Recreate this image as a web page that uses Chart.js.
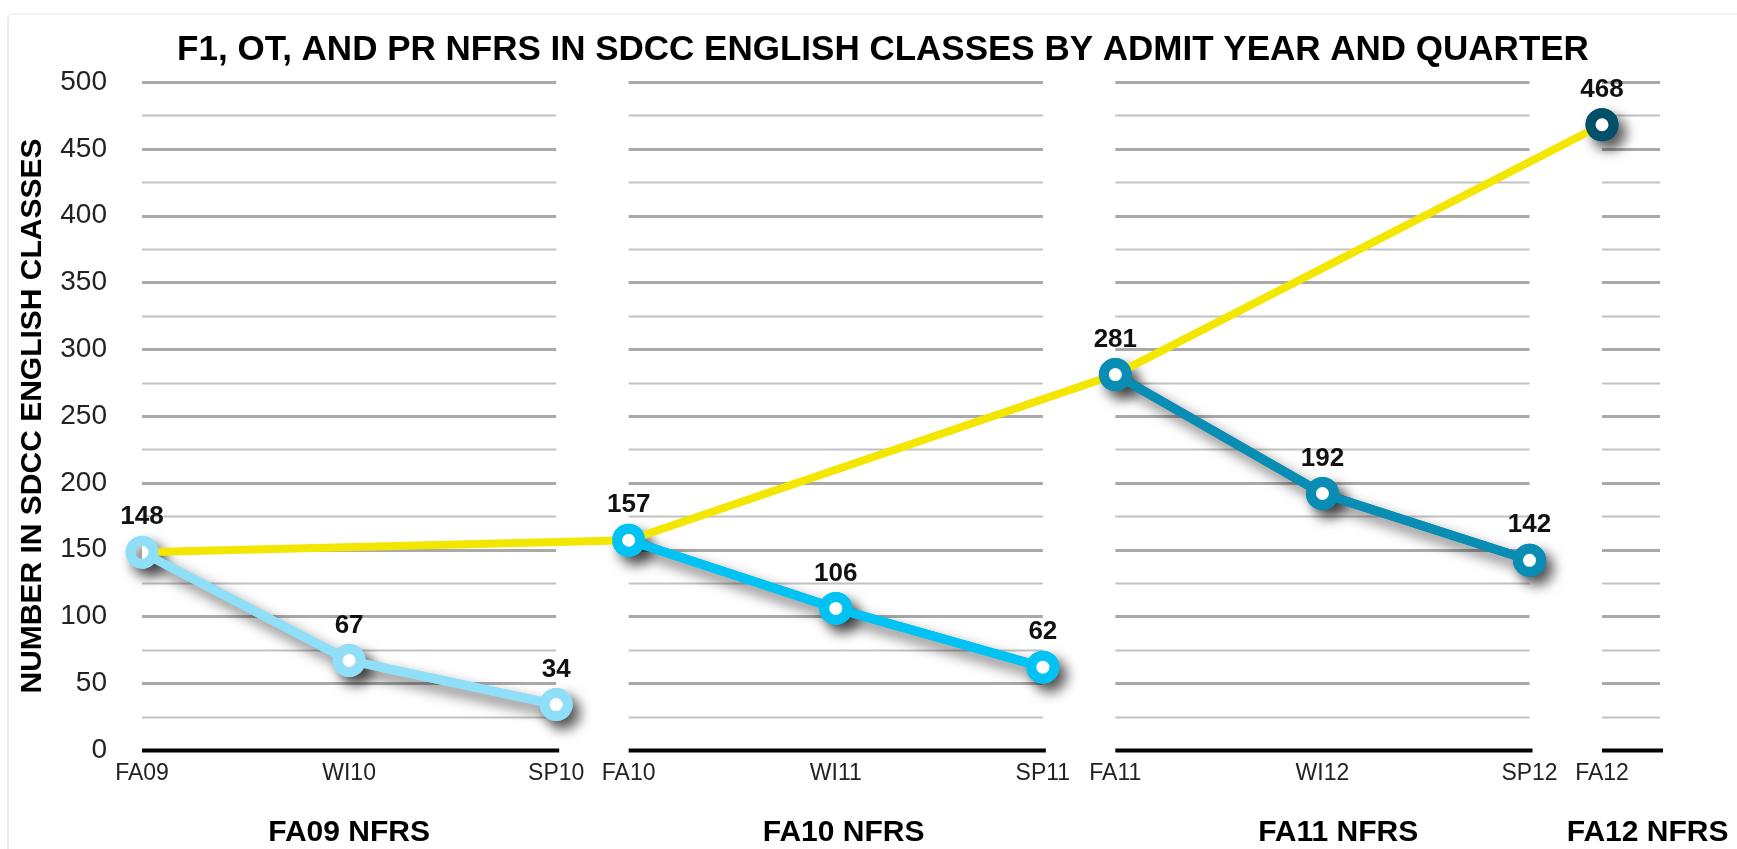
<!DOCTYPE html>
<html>
<head>
<meta charset="utf-8">
<script src="https://cdn.jsdelivr.net/npm/chart.js@4.4.1/dist/chart.umd.min.js"></script>
<style>
  html, body { margin: 0; padding: 0; background: #fff; }
  #frame { position: absolute; left: 7px; top: 13px; right: 0; bottom: 0;
           border-left: 2px solid #ececec; border-top: 2px solid #f2f2f2; border-top-left-radius: 6px; }
  #wrap { position: relative; width: 1737px; height: 849px; }
  canvas { position: absolute; left: 0; top: 0; }
</style>
</head>
<body>
<div id="wrap">
  <div id="frame"></div>
  <canvas id="grafico" width="1737" height="849"></canvas>
</div>
<script>
// ---------- DADOS ----------
const chartTitle = 'F1, OT, AND PR NFRS IN SDCC ENGLISH CLASSES BY ADMIT YEAR AND QUARTER';
const quarterLabels = ['FA09', 'WI10', 'SP10', 'FA10', 'WI11', 'SP11', 'FA11', 'WI12', 'SP12', 'FA12'];
const cohortLabels = ['FA09 NFRS', 'FA10 NFRS', 'FA11 NFRS', 'FA12 NFRS'];
const fa09Cohort = [148, 67, 34];
const fa10Cohort = [157, 106, 62];
const fa11Cohort = [281, 192, 142];
const fa12Cohort = [468];
const f1Trend = [148, 157, 281, 468];   // primeiro trimestre de cada coorte
const yMax = 500;
const yStep = 50;

// ---------- LAYOUT (paineis separados por coorte) ----------
const PANEL = 2;      // largura de um painel (3 trimestres)
const GAP = 0.35;     // espaço entre paineis
const LAST_PANEL = 0.28;
const panelStart = c => c * (PANEL + GAP);
const qPos = (c, q) => panelStart(c) + q * PANEL / 2;
const xMax = panelStart(3) + LAST_PANEL;

const cohorts = [fa09Cohort, fa10Cohort, fa11Cohort, fa12Cohort];
const tickPositions = [];
cohorts.forEach((arr, c) => arr.forEach((v, q) => tickPositions.push(qPos(c, q))));
const groupPositions = cohorts.map((arr, c) => c < 3 ? panelStart(c) + PANEL / 2 + c * 0.038 : panelStart(c) + 0.22);
const panels = cohorts.map((arr, c) => [panelStart(c), c < 3 ? panelStart(c) + PANEL : xMax]);

const pontos = (arr, c) => arr.map((v, q) => ({ x: qPos(c, q), y: v }));

const SANS = "'Liberation Sans', Arial, Helvetica, sans-serif";
const cores = ['#8fdff8', '#00c3f4', '#098db4', '#03506a'];

// ---------- PLUGINS ----------
const gradePaineis = {
  id: 'gradePaineis',
  beforeDatasetsDraw(chart) {
    const { ctx, scales: { x, y } } = chart;
    ctx.save();
    for (let v = 0; v <= yMax; v += yStep / 2) {
      const py = Math.round(y.getPixelForValue(v)) + 0.5;
      panels.forEach(([a, b]) => {
        const x0 = x.getPixelForValue(a);
        let x1 = x.getPixelForValue(b);
        if (v === 0) {
          ctx.strokeStyle = '#000';
          ctx.lineWidth = 4;
          x1 += 3;
        } else if (v % yStep === 0) {
          ctx.strokeStyle = '#a9a9a9';
          ctx.lineWidth = 3;
        } else {
          ctx.strokeStyle = '#c2c2c2';
          ctx.lineWidth = 2;
        }
        ctx.beginPath();
        ctx.moveTo(x0, py);
        ctx.lineTo(x1, py);
        ctx.stroke();
      });
    }
    ctx.restore();
  }
};

// passa de sombra: desenha linha e pontos com sombra antes do desenho normal
const sombra = {
  id: 'sombra',
  beforeDatasetsDraw(chart) {
    const ctx = chart.ctx;
    chart.data.datasets.forEach((ds, i) => {
      if (!ds.sombra) return;
      const meta = chart.getDatasetMeta(i);
      ctx.save();
      ctx.shadowColor = 'rgba(0,0,0,0.6)';
      ctx.shadowBlur = 14;
      ctx.shadowOffsetX = 7;
      ctx.shadowOffsetY = 8;
      if (meta.data.length > 1) meta.dataset.draw(ctx, chart.chartArea);
      meta.data.forEach(pt => pt.draw(ctx, chart.chartArea));
      ctx.restore();
    });
  }
};

const rotulos = {
  id: 'rotulos',
  afterDatasetsDraw(chart) {
    const ctx = chart.ctx;
    ctx.save();
    ctx.font = 'bold 26px ' + SANS;
    ctx.fillStyle = '#111';
    ctx.textAlign = 'center';
    ctx.textBaseline = 'middle';
    chart.data.datasets.forEach((ds, i) => {
      if (!ds.rotulo) return;
      chart.getDatasetMeta(i).data.forEach((pt, j) => {
        ctx.fillText(String(ds.data[j].y), pt.x, pt.y - 35);
      });
    });
    ctx.restore();
  }
};

const titulo = {
  id: 'titulo',
  afterDraw(chart) {
    const ctx = chart.ctx;
    const area = chart.chartArea;
    ctx.save();
    ctx.font = 'bold 35px ' + SANS;
    ctx.fillStyle = '#000';
    ctx.textAlign = 'center';
    ctx.textBaseline = 'middle';
    ctx.fillText(chartTitle, (area.left + area.right) / 2 - 18, area.top - 32);
    ctx.restore();
  }
};

// ---------- GRÁFICO ----------
const serie = (arr, c) => ({
  label: cohortLabels[c],
  data: pontos(arr, c),
  borderColor: cores[c],
  backgroundColor: cores[c],
  borderWidth: 9,
  pointRadius: 11.5,
  pointHoverRadius: 11.5,
  pointBorderWidth: 10,
  pointBackgroundColor: '#fff',
  pointBorderColor: cores[c],
  tension: 0,
  sombra: true,
  rotulo: true
});

const semPadding = scale => { scale.paddingLeft = 0; scale.paddingRight = 0; };

new Chart(document.getElementById('grafico'), {
  type: 'line',
  data: {
    datasets: [
      serie(fa09Cohort, 0),
      serie(fa10Cohort, 1),
      serie(fa11Cohort, 2),
      serie(fa12Cohort, 3),
      {
        label: 'F1',
        data: f1Trend.map((v, c) => ({ x: panelStart(c), y: v })),
        borderColor: '#f3e600',
        borderWidth: 8,
        pointRadius: 0,
        pointHoverRadius: 0,
        tension: 0
      }
    ]
  },
  options: {
    responsive: false,
    animation: false,
    events: [],
    layout: { padding: { left: 8, right: 77, top: 82, bottom: 0 } },
    plugins: {
      legend: { display: false },
      tooltip: { enabled: false },
      title: { display: false }
    },
    scales: {
      y: {
        min: 0,
        max: yMax,
        grid: { display: false, drawTicks: false },
        border: { display: false },
        ticks: { stepSize: yStep, padding: 35, color: '#222', font: { family: SANS, size: 28 } },
        title: {
          display: true,
          text: 'NUMBER IN SDCC ENGLISH CLASSES',
          color: '#000',
          font: { family: SANS, size: 30, weight: 'bold' },
          padding: { top: 7, bottom: 0 }
        },
        afterFit(scale) { scale.width = 134; }
      },
      x: {
        type: 'linear',
        min: 0,
        max: xMax,
        weight: 0,
        grid: { display: false, drawTicks: false },
        border: { display: false },
        afterBuildTicks(scale) { scale.ticks = tickPositions.map(v => ({ value: v })); },
        afterFit(scale) { scale.height = 36; semPadding(scale); },
        ticks: {
          autoSkip: false,
          maxRotation: 0,
          padding: 10,
          color: '#222',
          font: { family: SANS, size: 23 },
          callback: (v, i) => quarterLabels[i]
        }
      },
      grupo: {
        type: 'linear',
        position: 'bottom',
        axis: 'x',
        min: 0,
        max: xMax,
        weight: 1,
        grid: { display: false, drawTicks: false },
        border: { display: false },
        afterBuildTicks(scale) { scale.ticks = groupPositions.map(v => ({ value: v })); },
        afterFit(scale) { scale.height = 63; semPadding(scale); },
        ticks: {
          autoSkip: false,
          maxRotation: 0,
          padding: 29,
          color: '#000',
          font: { family: SANS, size: 30, weight: 'bold' },
          callback: (v, i) => cohortLabels[i]
        }
      }
    }
  },
  plugins: [gradePaineis, sombra, rotulos, titulo]
});
</script>
</body>
</html>
